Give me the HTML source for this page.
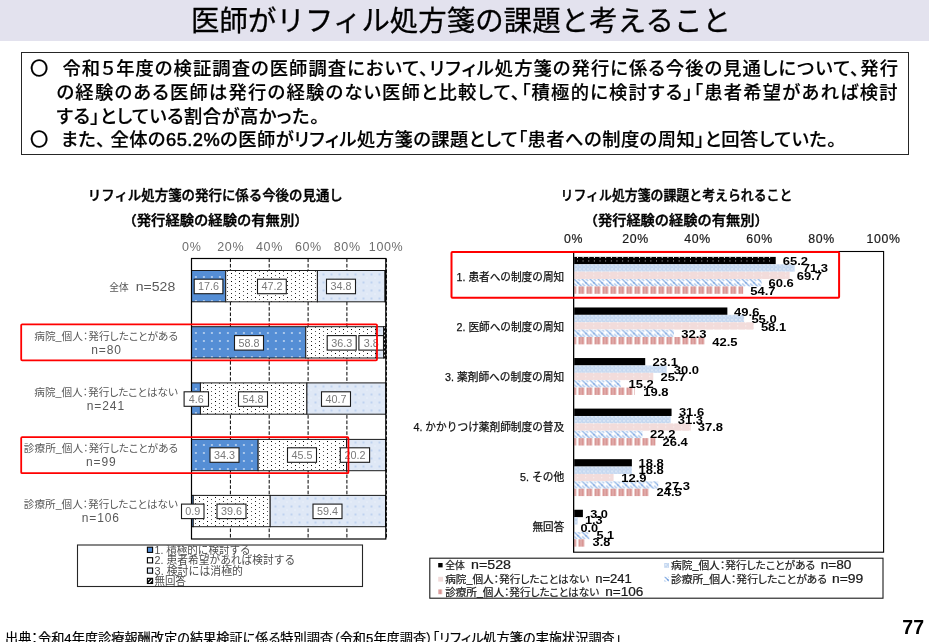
<!DOCTYPE html>
<html lang="ja"><head><meta charset="utf-8"><title>医師がリフィル処方箋の課題と考えること</title>
<style>
html,body{margin:0;padding:0;background:#fff;}
body{width:929px;height:642px;overflow:hidden;position:relative;font-family:"Liberation Sans", "Noto Sans CJK JP", sans-serif;color:#000;}
#hdr{position:absolute;left:0;top:0;width:929px;height:41px;background:#e3e2ee;}
#ttl{position:absolute;left:191px;top:1px;height:41px;line-height:41px;font-size:28.4px;letter-spacing:0.1px;white-space:nowrap;-webkit-text-stroke:0.3px #000;}
#box{position:absolute;left:21px;top:51.5px;width:886px;height:101px;border:1px solid #262626;}
.sl{position:absolute;white-space:nowrap;font-size:18.3px;font-weight:500;-webkit-text-stroke:0.18px #000;font-feature-settings:"palt";line-height:24px;height:24px;overflow:visible;}
.j{text-align:justify;text-align-last:justify;}
#foot{position:absolute;left:5px;top:629.4px;-webkit-text-stroke:0.2px #000;font-size:13.2px;font-feature-settings:"palt";line-height:20px;white-space:nowrap;}
#pg{position:absolute;left:894px;top:615px;width:30px;text-align:right;font-size:19.5px;font-weight:700;line-height:24px;font-family:"Liberation Sans",sans-serif;}
svg{position:absolute;left:0;top:0;}
svg text{font-family:"Liberation Sans", "Noto Sans CJK JP", sans-serif;}
</style></head><body>
<div id="hdr"></div>
<div id="ttl">医師がリフィル処方箋の課題と考えること</div>
<div id="box"></div>
<div class="sl" style="left:30px;top:57.4px;">〇</div>
<div class="sl j" style="left:62.5px;top:57.4px;width:835.5px;">令和５年度の検証調査の医師調査において、リフィル処方箋の発行に係る今後の見通しについて、発行</div>
<div class="sl j" style="left:56.5px;top:81.1px;width:841px;">の経験のある医師は発行の経験のない医師と比較して、「積極的に検討する」「患者希望があれば検討</div>
<div class="sl" style="left:56.5px;top:104.7px;letter-spacing:0.5px;">する」としている割合が高かった。</div>
<div class="sl" style="left:30px;top:128.2px;">〇</div>
<div class="sl" style="left:61px;top:128.2px;letter-spacing:0.46px;">また<span style="margin-right:4.6px">、</span>全体の<span style="-webkit-text-stroke:0.55px #000">65.2%</span>の医師がリフィル処方箋の課題として「患者への制度の周知」と回答していた。</div>

<svg width="929" height="642" viewBox="0 0 929 642">
<defs>
<pattern id="pBlue" x="191.9" y="329" width="8" height="8" patternUnits="userSpaceOnUse"><rect width="8" height="8" fill="#558ed5"/><rect x="3" y="3" width="2" height="2" fill="#a9c6ea"/></pattern>
<pattern id="pDot" x="3" y="5" width="8" height="8" patternUnits="userSpaceOnUse" shape-rendering="crispEdges"><rect width="8" height="8" fill="#fff"/><rect x="4" y="4" width="1" height="1" fill="#000"/><rect x="4" y="0" width="1" height="1" fill="#333"/><rect x="0" y="2" width="1" height="1" fill="#5a5a5a"/><rect x="0" y="6" width="1" height="1" fill="#5a5a5a"/></pattern>
<pattern id="pLight" x="191.5" y="270.5" width="8" height="8" patternUnits="userSpaceOnUse"><rect width="8" height="8" fill="#dfe8f6"/><rect x="3" y="3" width="2" height="2" fill="#bfd2ef"/><rect x="7" y="7" width="1" height="1" fill="#f4f8fd"/></pattern>
<pattern id="pHatchK" width="4" height="4" patternUnits="userSpaceOnUse"><rect width="4" height="4" fill="#fff"/><path d="M-1,3 L3,-1 M1,5 L5,1" stroke="#000" stroke-width="1.6"/></pattern>
<pattern id="rB" width="4" height="4" patternUnits="userSpaceOnUse"><rect width="4" height="4" fill="#c4d7f0"/><rect x="1.3" y="0.3" width="1.2" height="1.2" fill="#fff"/><rect x="3.2" y="2.3" width="1" height="1" fill="#e9f0fa"/></pattern>
<pattern id="rP" width="8" height="8" patternUnits="userSpaceOnUse"><rect width="8" height="8" fill="#f2dcdb"/><rect x="3" y="3.2" width="1.1" height="1.1" fill="#fbf3f3"/><rect x="3" y="-0.3" width="1.1" height="0.9" fill="#fff"/><rect x="3" y="7.1" width="1.1" height="0.9" fill="#fff"/></pattern>
<pattern id="rH" width="8" height="8" patternUnits="userSpaceOnUse"><rect width="8" height="8" fill="#fff"/><path d="M-4,-4 L12,12 M-4,4 L4,12 M4,-4 L12,4" stroke="#8db3e6" stroke-width="1.35"/><path d="M3.4,-0.6 L6,2 M-4.6,-0.6 L-2,2 M11.4,-0.6 L14,2 M0,4.4 L3,7.4 M8,4.4 L11,7.4" stroke="#b4cdef" stroke-width="1.5"/><rect x="3.3" y="3.3" width="1.1" height="1.1" fill="#4a7fd0"/></pattern>
<pattern id="rR" x="4.3" width="8" height="8" patternUnits="userSpaceOnUse"><rect width="8" height="8" fill="#fff"/><rect x="0" y="0" width="2.65" height="8" fill="#d99694"/><rect x="2.95" y="0" width="2.65" height="8" fill="#d99694"/><rect x="2.65" y="0" width="0.3" height="8" fill="#e8bcbb"/></pattern>
</defs>
<text x="87.8" y="200.2" font-size="13.4" fill="#000" font-weight="500" textLength="255.0" lengthAdjust="spacingAndGlyphs" stroke="#000" stroke-width="0.4">リフィル処方箋の発行に係る今後の見通し</text>
<text x="122.5" y="225.2" font-size="13.4" fill="#000" font-weight="500" textLength="186.0" lengthAdjust="spacingAndGlyphs" stroke="#000" stroke-width="0.4">（発行経験の経験の有無別）</text>
<text x="191.8" y="250.9" font-size="12.5" fill="#6e6e6e" text-anchor="middle" letter-spacing="0.65">0%</text>
<text x="230.7" y="250.9" font-size="12.5" fill="#6e6e6e" text-anchor="middle" letter-spacing="0.65">20%</text>
<text x="269.5" y="250.9" font-size="12.5" fill="#6e6e6e" text-anchor="middle" letter-spacing="0.65">40%</text>
<text x="308.4" y="250.9" font-size="12.5" fill="#6e6e6e" text-anchor="middle" letter-spacing="0.65">60%</text>
<text x="347.2" y="250.9" font-size="12.5" fill="#6e6e6e" text-anchor="middle" letter-spacing="0.65">80%</text>
<text x="386.1" y="250.9" font-size="12.5" fill="#6e6e6e" text-anchor="middle" letter-spacing="0.65">100%</text>
<rect x="191.5" y="258.5" width="194.3" height="280.5" fill="#fff" stroke="none"/>
<line x1="230.4" y1="258.5" x2="230.4" y2="539.0" stroke="#000" stroke-width="1" stroke-dasharray="3.6,1.8"/>
<line x1="269.2" y1="258.5" x2="269.2" y2="539.0" stroke="#000" stroke-width="1" stroke-dasharray="3.6,1.8"/>
<line x1="308.1" y1="258.5" x2="308.1" y2="539.0" stroke="#000" stroke-width="1" stroke-dasharray="3.6,1.8"/>
<line x1="346.9" y1="258.5" x2="346.9" y2="539.0" stroke="#000" stroke-width="1" stroke-dasharray="3.6,1.8"/>
<rect x="191.50" y="270.5" width="34.20" height="31.3" fill="url(#pBlue)" stroke="#1a1a1a" stroke-width="1"/>
<rect x="225.70" y="270.5" width="91.71" height="31.3" fill="url(#pDot)" stroke="#1a1a1a" stroke-width="1"/>
<rect x="317.41" y="270.5" width="67.62" height="31.3" fill="url(#pLight)" stroke="#1a1a1a" stroke-width="1"/>
<rect x="385.02" y="270.5" width="0.78" height="31.3" fill="url(#pHatchK)" stroke="#1a1a1a" stroke-width="1"/>
<rect x="191.50" y="326.7" width="114.25" height="31.3" fill="url(#pBlue)" stroke="#1a1a1a" stroke-width="1"/>
<rect x="305.75" y="326.7" width="70.53" height="31.3" fill="url(#pDot)" stroke="#1a1a1a" stroke-width="1"/>
<rect x="376.28" y="326.7" width="7.38" height="31.3" fill="url(#pLight)" stroke="#1a1a1a" stroke-width="1"/>
<rect x="383.66" y="326.7" width="2.14" height="31.3" fill="url(#pHatchK)" stroke="#1a1a1a" stroke-width="1"/>
<rect x="191.50" y="382.9" width="8.94" height="31.3" fill="url(#pBlue)" stroke="#1a1a1a" stroke-width="1"/>
<rect x="200.44" y="382.9" width="106.48" height="31.3" fill="url(#pDot)" stroke="#1a1a1a" stroke-width="1"/>
<rect x="306.91" y="382.9" width="79.08" height="31.3" fill="url(#pLight)" stroke="#1a1a1a" stroke-width="1"/>
<rect x="191.50" y="439.4" width="66.64" height="31.3" fill="url(#pBlue)" stroke="#1a1a1a" stroke-width="1"/>
<rect x="258.14" y="439.4" width="88.41" height="31.3" fill="url(#pDot)" stroke="#1a1a1a" stroke-width="1"/>
<rect x="346.55" y="439.4" width="39.25" height="31.3" fill="url(#pLight)" stroke="#1a1a1a" stroke-width="1"/>
<rect x="191.50" y="495.4" width="1.75" height="31.3" fill="url(#pBlue)" stroke="#1a1a1a" stroke-width="1"/>
<rect x="193.25" y="495.4" width="76.94" height="31.3" fill="url(#pDot)" stroke="#1a1a1a" stroke-width="1"/>
<rect x="270.19" y="495.4" width="115.41" height="31.3" fill="url(#pLight)" stroke="#1a1a1a" stroke-width="1"/>
<rect x="191.5" y="258.5" width="194.3" height="280.5" fill="none" stroke="#000" stroke-width="1.2"/>
<line x1="386.4" y1="258.5" x2="386.4" y2="539.0" stroke="#000" stroke-width="1" stroke-dasharray="3.6,1.8"/>
<rect x="194.2" y="279.2" width="28.7" height="14.5" fill="#fff" stroke="#1a1a1a" stroke-width="1.1"/>
<text x="208.6" y="290.4" font-size="10.8" fill="#7a7a7a" text-anchor="middle">17.6</text>
<rect x="257.5" y="279.2" width="28.8" height="14.5" fill="#fff" stroke="#1a1a1a" stroke-width="1.1"/>
<text x="271.9" y="290.4" font-size="10.8" fill="#7a7a7a" text-anchor="middle">47.2</text>
<rect x="326.5" y="279.2" width="29.0" height="14.5" fill="#fff" stroke="#1a1a1a" stroke-width="1.1"/>
<text x="341.0" y="290.4" font-size="10.8" fill="#7a7a7a" text-anchor="middle">34.8</text>
<rect x="234.5" y="335.6" width="29.0" height="14.5" fill="#fff" stroke="#1a1a1a" stroke-width="1.1"/>
<text x="249.0" y="346.7" font-size="10.8" fill="#7a7a7a" text-anchor="middle">58.8</text>
<rect x="327.2" y="335.6" width="29.0" height="14.5" fill="#fff" stroke="#1a1a1a" stroke-width="1.1"/>
<text x="341.7" y="346.7" font-size="10.8" fill="#7a7a7a" text-anchor="middle">36.3</text>
<rect x="358.9" y="335.6" width="24.6" height="14.5" fill="#fff" stroke="#1a1a1a" stroke-width="1.1"/>
<text x="371.2" y="346.7" font-size="10.8" fill="#7a7a7a" text-anchor="middle">3.8</text>
<rect x="184.1" y="391.8" width="24.4" height="14.5" fill="#fff" stroke="#1a1a1a" stroke-width="1.1"/>
<text x="196.3" y="402.9" font-size="10.8" fill="#7a7a7a" text-anchor="middle">4.6</text>
<rect x="238.5" y="391.8" width="29.0" height="14.5" fill="#fff" stroke="#1a1a1a" stroke-width="1.1"/>
<text x="253.0" y="402.9" font-size="10.8" fill="#7a7a7a" text-anchor="middle">54.8</text>
<rect x="321.5" y="391.8" width="29.0" height="14.5" fill="#fff" stroke="#1a1a1a" stroke-width="1.1"/>
<text x="336.0" y="402.9" font-size="10.8" fill="#7a7a7a" text-anchor="middle">40.7</text>
<rect x="210.0" y="447.8" width="29.0" height="14.5" fill="#fff" stroke="#1a1a1a" stroke-width="1.1"/>
<text x="224.5" y="458.9" font-size="10.8" fill="#7a7a7a" text-anchor="middle">34.3</text>
<rect x="287.5" y="447.8" width="29.0" height="14.5" fill="#fff" stroke="#1a1a1a" stroke-width="1.1"/>
<text x="302.0" y="458.9" font-size="10.8" fill="#7a7a7a" text-anchor="middle">45.5</text>
<rect x="340.3" y="447.8" width="29.3" height="14.5" fill="#fff" stroke="#1a1a1a" stroke-width="1.1"/>
<text x="355.0" y="458.9" font-size="10.8" fill="#7a7a7a" text-anchor="middle">20.2</text>
<rect x="181.5" y="504.1" width="22.5" height="14.5" fill="#fff" stroke="#1a1a1a" stroke-width="1.1"/>
<text x="192.8" y="515.2" font-size="10.8" fill="#7a7a7a" text-anchor="middle">0.9</text>
<rect x="217.0" y="504.1" width="29.0" height="14.5" fill="#fff" stroke="#1a1a1a" stroke-width="1.1"/>
<text x="231.5" y="515.2" font-size="10.8" fill="#7a7a7a" text-anchor="middle">39.6</text>
<rect x="313.0" y="504.1" width="29.0" height="14.5" fill="#fff" stroke="#1a1a1a" stroke-width="1.1"/>
<text x="327.5" y="515.2" font-size="10.8" fill="#7a7a7a" text-anchor="middle">59.4</text>
<text y="291.2" fill="#595959"><tspan x="109.2" font-size="10.5" textLength="19.4" lengthAdjust="spacingAndGlyphs" style="font-feature-settings:&quot;palt&quot;">全体</tspan><tspan x="131.9" font-size="12" textLength="43.3" lengthAdjust="spacingAndGlyphs"> n=528</tspan></text>
<text x="34.2" y="339.6" font-size="10.5" fill="#595959" textLength="143.8" lengthAdjust="spacingAndGlyphs" style="font-feature-settings:&quot;palt&quot;">病院_個人：発行したことがある</text>
<text x="106.5" y="354.0" font-size="12" fill="#595959" text-anchor="middle" letter-spacing="0.9">n=80</text>
<text x="34.3" y="396.3" font-size="10.5" fill="#595959" textLength="143.7" lengthAdjust="spacingAndGlyphs" style="font-feature-settings:&quot;palt&quot;">病院_個人：発行したことはない</text>
<text x="105.9" y="410.2" font-size="12" fill="#595959" text-anchor="middle" letter-spacing="0.9">n=241</text>
<text x="23.8" y="451.9" font-size="10.5" fill="#595959" textLength="154.2" lengthAdjust="spacingAndGlyphs" style="font-feature-settings:&quot;palt&quot;">診療所_個人：発行したことがある</text>
<text x="101.3" y="466.0" font-size="12" fill="#595959" text-anchor="middle" letter-spacing="0.9">n=99</text>
<text x="23.8" y="508.3" font-size="10.5" fill="#595959" textLength="154.2" lengthAdjust="spacingAndGlyphs" style="font-feature-settings:&quot;palt&quot;">診療所_個人：発行したことはない</text>
<text x="100.8" y="521.7" font-size="12" fill="#595959" text-anchor="middle" letter-spacing="0.9">n=106</text>
<rect x="21.2" y="324.3" width="355.8" height="36" rx="1" fill="none" stroke="#ff0000" stroke-width="1.8"/>
<rect x="21.2" y="437.2" width="327.2" height="36" rx="1" fill="none" stroke="#ff0000" stroke-width="1.8"/>
<rect x="77.5" y="545" width="285" height="41.5" fill="#fff" stroke="#262626" stroke-width="1.1"/>
<clipPath id="lc"><rect x="78" y="545.5" width="284" height="40.5"/></clipPath>
<g clip-path="url(#lc)">
<rect x="147.4" y="547.2" width="5.2" height="5.2" fill="#558ed5" stroke="#000" stroke-width="1.1"/>
<text x="154.6" y="553.8" font-size="11" fill="#4d4d4d" textLength="95.9" lengthAdjust="spacingAndGlyphs">1. 積極的に検討する</text>
<rect x="147.4" y="557.7" width="5.2" height="5.2" fill="#fff" stroke="#000" stroke-width="1.1"/>
<text x="154.6" y="564.3" font-size="11" fill="#4d4d4d" textLength="140.6" lengthAdjust="spacingAndGlyphs">2. 患者希望があれば検討する</text>
<rect x="147.4" y="568.0" width="5.2" height="5.2" fill="#dfe8f6" stroke="#000" stroke-width="1.1"/>
<text x="154.6" y="574.6" font-size="11" fill="#4d4d4d" textLength="88.4" lengthAdjust="spacingAndGlyphs">3. 検討には消極的</text>
<rect x="147.4" y="578.3" width="5.2" height="5.2" fill="url(#pHatchK)" stroke="#000" stroke-width="1.1"/>
<text x="154.6" y="584.9" font-size="11" fill="#4d4d4d" textLength="31.4" lengthAdjust="spacingAndGlyphs">無回答</text>
</g>
<text x="560.6" y="200.2" font-size="13.4" fill="#000" font-weight="500" textLength="231.8" lengthAdjust="spacingAndGlyphs" stroke="#000" stroke-width="0.4">リフィル処方箋の課題と考えられること</text>
<text x="583.7" y="225.0" font-size="13.4" fill="#000" font-weight="500" textLength="185.0" lengthAdjust="spacingAndGlyphs" stroke="#000" stroke-width="0.4">（発行経験の経験の有無別）</text>
<text x="573.6" y="243.2" font-size="12.3" fill="#1a1a1a" text-anchor="middle" letter-spacing="0.7" stroke="#1a1a1a" stroke-width="0.2">0%</text>
<text x="635.6" y="243.2" font-size="12.3" fill="#1a1a1a" text-anchor="middle" letter-spacing="0.7" stroke="#1a1a1a" stroke-width="0.2">20%</text>
<text x="697.6" y="243.2" font-size="12.3" fill="#1a1a1a" text-anchor="middle" letter-spacing="0.7" stroke="#1a1a1a" stroke-width="0.2">40%</text>
<text x="759.6" y="243.2" font-size="12.3" fill="#1a1a1a" text-anchor="middle" letter-spacing="0.7" stroke="#1a1a1a" stroke-width="0.2">60%</text>
<text x="821.6" y="243.2" font-size="12.3" fill="#1a1a1a" text-anchor="middle" letter-spacing="0.7" stroke="#1a1a1a" stroke-width="0.2">80%</text>
<text x="883.6" y="243.2" font-size="12.3" fill="#1a1a1a" text-anchor="middle" letter-spacing="0.7" stroke="#1a1a1a" stroke-width="0.2">100%</text>
<rect x="573.6" y="251.5" width="310.0" height="300.7" fill="#fff" stroke="#000" stroke-width="1.1"/>
<rect transform="translate(574.2,256.90)" width="201.52" height="7.38" fill="#000"/>
<rect transform="translate(574.2,264.28)" width="220.43" height="7.38" fill="url(#rB)"/>
<rect transform="translate(574.2,271.66)" width="215.47" height="7.38" fill="url(#rP)"/>
<rect transform="translate(574.2,279.04)" width="187.26" height="7.38" fill="url(#rH)"/>
<rect transform="translate(574.2,286.42)" width="168.97" height="7.38" fill="url(#rR)"/>
<rect x="577.0" y="256.9" width="1" height="1.2" fill="#fff"/>
<rect x="577.0" y="260.5" width="0.9" height="0.9" fill="#ddd"/>
<rect x="582.6" y="256.9" width="1" height="1.2" fill="#fff"/>
<rect x="582.6" y="260.5" width="0.9" height="0.9" fill="#ddd"/>
<rect x="588.3" y="256.9" width="1" height="1.2" fill="#fff"/>
<rect x="588.3" y="260.5" width="0.9" height="0.9" fill="#ddd"/>
<rect x="593.9" y="256.9" width="1" height="1.2" fill="#fff"/>
<rect x="593.9" y="260.5" width="0.9" height="0.9" fill="#ddd"/>
<rect x="599.6" y="256.9" width="1" height="1.2" fill="#fff"/>
<rect x="599.6" y="260.5" width="0.9" height="0.9" fill="#ddd"/>
<rect x="605.2" y="256.9" width="1" height="1.2" fill="#fff"/>
<rect x="605.2" y="260.5" width="0.9" height="0.9" fill="#ddd"/>
<rect x="610.9" y="256.9" width="1" height="1.2" fill="#fff"/>
<rect x="610.9" y="260.5" width="0.9" height="0.9" fill="#ddd"/>
<rect x="616.5" y="256.9" width="1" height="1.2" fill="#fff"/>
<rect x="616.5" y="260.5" width="0.9" height="0.9" fill="#ddd"/>
<rect x="622.2" y="256.9" width="1" height="1.2" fill="#fff"/>
<rect x="622.2" y="260.5" width="0.9" height="0.9" fill="#ddd"/>
<rect x="627.8" y="256.9" width="1" height="1.2" fill="#fff"/>
<rect x="627.8" y="260.5" width="0.9" height="0.9" fill="#ddd"/>
<rect x="633.5" y="256.9" width="1" height="1.2" fill="#fff"/>
<rect x="633.5" y="260.5" width="0.9" height="0.9" fill="#ddd"/>
<rect x="639.1" y="256.9" width="1" height="1.2" fill="#fff"/>
<rect x="639.1" y="260.5" width="0.9" height="0.9" fill="#ddd"/>
<rect x="644.8" y="256.9" width="1" height="1.2" fill="#fff"/>
<rect x="644.8" y="260.5" width="0.9" height="0.9" fill="#ddd"/>
<rect x="650.4" y="256.9" width="1" height="1.2" fill="#fff"/>
<rect x="650.4" y="260.5" width="0.9" height="0.9" fill="#ddd"/>
<rect x="656.1" y="256.9" width="1" height="1.2" fill="#fff"/>
<rect x="656.1" y="260.5" width="0.9" height="0.9" fill="#ddd"/>
<rect x="661.7" y="256.9" width="1" height="1.2" fill="#fff"/>
<rect x="661.7" y="260.5" width="0.9" height="0.9" fill="#ddd"/>
<rect x="667.4" y="256.9" width="1" height="1.2" fill="#fff"/>
<rect x="667.4" y="260.5" width="0.9" height="0.9" fill="#ddd"/>
<rect x="673.0" y="256.9" width="1" height="1.2" fill="#fff"/>
<rect x="673.0" y="260.5" width="0.9" height="0.9" fill="#ddd"/>
<rect x="678.7" y="256.9" width="1" height="1.2" fill="#fff"/>
<rect x="678.7" y="260.5" width="0.9" height="0.9" fill="#ddd"/>
<rect x="684.3" y="256.9" width="1" height="1.2" fill="#fff"/>
<rect x="684.3" y="260.5" width="0.9" height="0.9" fill="#ddd"/>
<rect x="690.0" y="256.9" width="1" height="1.2" fill="#fff"/>
<rect x="690.0" y="260.5" width="0.9" height="0.9" fill="#ddd"/>
<rect x="695.6" y="256.9" width="1" height="1.2" fill="#fff"/>
<rect x="695.6" y="260.5" width="0.9" height="0.9" fill="#ddd"/>
<rect x="701.3" y="256.9" width="1" height="1.2" fill="#fff"/>
<rect x="701.3" y="260.5" width="0.9" height="0.9" fill="#ddd"/>
<rect x="706.9" y="256.9" width="1" height="1.2" fill="#fff"/>
<rect x="706.9" y="260.5" width="0.9" height="0.9" fill="#ddd"/>
<rect x="712.6" y="256.9" width="1" height="1.2" fill="#fff"/>
<rect x="712.6" y="260.5" width="0.9" height="0.9" fill="#ddd"/>
<rect x="718.2" y="256.9" width="1" height="1.2" fill="#fff"/>
<rect x="718.2" y="260.5" width="0.9" height="0.9" fill="#ddd"/>
<rect x="723.9" y="256.9" width="1" height="1.2" fill="#fff"/>
<rect x="723.9" y="260.5" width="0.9" height="0.9" fill="#ddd"/>
<rect x="729.5" y="256.9" width="1" height="1.2" fill="#fff"/>
<rect x="729.5" y="260.5" width="0.9" height="0.9" fill="#ddd"/>
<rect x="735.2" y="256.9" width="1" height="1.2" fill="#fff"/>
<rect x="735.2" y="260.5" width="0.9" height="0.9" fill="#ddd"/>
<rect x="740.8" y="256.9" width="1" height="1.2" fill="#fff"/>
<rect x="740.8" y="260.5" width="0.9" height="0.9" fill="#ddd"/>
<rect x="746.5" y="256.9" width="1" height="1.2" fill="#fff"/>
<rect x="746.5" y="260.5" width="0.9" height="0.9" fill="#ddd"/>
<rect x="752.1" y="256.9" width="1" height="1.2" fill="#fff"/>
<rect x="752.1" y="260.5" width="0.9" height="0.9" fill="#ddd"/>
<rect x="757.8" y="256.9" width="1" height="1.2" fill="#fff"/>
<rect x="757.8" y="260.5" width="0.9" height="0.9" fill="#ddd"/>
<rect x="763.4" y="256.9" width="1" height="1.2" fill="#fff"/>
<rect x="763.4" y="260.5" width="0.9" height="0.9" fill="#ddd"/>
<rect x="769.1" y="256.9" width="1" height="1.2" fill="#fff"/>
<rect x="769.1" y="260.5" width="0.9" height="0.9" fill="#ddd"/>
<text x="564.2" y="280.8" font-size="11.5" fill="#111" text-anchor="end" textLength="107.6" lengthAdjust="spacingAndGlyphs" stroke="#111" stroke-width="0.25">1. 患者への制度の周知</text>
<text x="782.7" y="265.4" font-size="11.5" fill="#000" font-weight="700" textLength="25.3" lengthAdjust="spacingAndGlyphs">65.2</text>
<text x="802.8" y="271.7" font-size="11.5" fill="#000" font-weight="700" textLength="25.3" lengthAdjust="spacingAndGlyphs">71.3</text>
<text x="796.8" y="280.4" font-size="11.5" fill="#000" font-weight="700" textLength="25.3" lengthAdjust="spacingAndGlyphs">69.7</text>
<text x="768.5" y="287.2" font-size="11.5" fill="#000" font-weight="700" textLength="25.3" lengthAdjust="spacingAndGlyphs">60.6</text>
<text x="750.3" y="295.3" font-size="11.5" fill="#000" font-weight="700" textLength="25.3" lengthAdjust="spacingAndGlyphs">54.7</text>
<rect transform="translate(574.2,307.47)" width="153.16" height="7.38" fill="#000"/>
<rect transform="translate(574.2,314.85)" width="169.90" height="7.38" fill="url(#rB)"/>
<rect transform="translate(574.2,322.23)" width="179.51" height="7.38" fill="url(#rP)"/>
<rect transform="translate(574.2,329.61)" width="99.53" height="7.38" fill="url(#rH)"/>
<rect transform="translate(574.2,336.99)" width="131.15" height="7.38" fill="url(#rR)"/>
<text x="564.2" y="330.9" font-size="11.5" fill="#111" text-anchor="end" textLength="107.6" lengthAdjust="spacingAndGlyphs" stroke="#111" stroke-width="0.25">2. 医師への制度の周知</text>
<text x="734.1" y="315.6" font-size="11.5" fill="#000" font-weight="700" textLength="25.3" lengthAdjust="spacingAndGlyphs">49.6</text>
<text x="751.4" y="323.4" font-size="11.5" fill="#000" font-weight="700" textLength="25.3" lengthAdjust="spacingAndGlyphs">55.0</text>
<text x="760.9" y="330.6" font-size="11.5" fill="#000" font-weight="700" textLength="25.3" lengthAdjust="spacingAndGlyphs">58.1</text>
<text x="681.2" y="338.2" font-size="11.5" fill="#000" font-weight="700" textLength="25.3" lengthAdjust="spacingAndGlyphs">32.3</text>
<text x="712.3" y="345.6" font-size="11.5" fill="#000" font-weight="700" textLength="25.3" lengthAdjust="spacingAndGlyphs">42.5</text>
<rect transform="translate(574.2,358.04)" width="71.01" height="7.38" fill="#000"/>
<rect transform="translate(574.2,365.42)" width="92.40" height="7.38" fill="url(#rB)"/>
<rect transform="translate(574.2,372.80)" width="79.07" height="7.38" fill="url(#rP)"/>
<rect transform="translate(574.2,380.18)" width="46.52" height="7.38" fill="url(#rH)"/>
<rect transform="translate(574.2,387.56)" width="60.78" height="7.38" fill="url(#rR)"/>
<text x="564.2" y="381.0" font-size="11.5" fill="#111" text-anchor="end" textLength="119.2" lengthAdjust="spacingAndGlyphs" stroke="#111" stroke-width="0.25">3. 薬剤師への制度の周知</text>
<text x="652.6" y="366.2" font-size="11.5" fill="#000" font-weight="700" textLength="25.3" lengthAdjust="spacingAndGlyphs">23.1</text>
<text x="673.8" y="373.6" font-size="11.5" fill="#000" font-weight="700" textLength="25.3" lengthAdjust="spacingAndGlyphs">30.0</text>
<text x="660.5" y="380.5" font-size="11.5" fill="#000" font-weight="700" textLength="25.3" lengthAdjust="spacingAndGlyphs">25.7</text>
<text x="628.5" y="388.2" font-size="11.5" fill="#000" font-weight="700" textLength="25.3" lengthAdjust="spacingAndGlyphs">15.2</text>
<text x="643.3" y="395.6" font-size="11.5" fill="#000" font-weight="700" textLength="25.3" lengthAdjust="spacingAndGlyphs">19.8</text>
<rect transform="translate(574.2,408.61)" width="97.36" height="7.38" fill="#000"/>
<rect transform="translate(574.2,415.99)" width="96.43" height="7.38" fill="url(#rB)"/>
<rect transform="translate(574.2,423.37)" width="116.58" height="7.38" fill="url(#rP)"/>
<rect transform="translate(574.2,430.75)" width="68.22" height="7.38" fill="url(#rH)"/>
<rect transform="translate(574.2,438.13)" width="81.24" height="7.38" fill="url(#rR)"/>
<text x="564.2" y="431.1" font-size="11.5" fill="#111" text-anchor="end" textLength="150.7" lengthAdjust="spacingAndGlyphs" stroke="#111" stroke-width="0.25">4. かかりつけ薬剤師制度の普及</text>
<text x="678.9" y="416.4" font-size="11.5" fill="#000" font-weight="700" textLength="25.3" lengthAdjust="spacingAndGlyphs">31.6</text>
<text x="677.7" y="423.7" font-size="11.5" fill="#000" font-weight="700" textLength="25.3" lengthAdjust="spacingAndGlyphs">31.3</text>
<text x="697.8" y="431.3" font-size="11.5" fill="#000" font-weight="700" textLength="25.3" lengthAdjust="spacingAndGlyphs">37.8</text>
<text x="650.1" y="438.2" font-size="11.5" fill="#000" font-weight="700" textLength="25.3" lengthAdjust="spacingAndGlyphs">22.2</text>
<text x="662.5" y="446.2" font-size="11.5" fill="#000" font-weight="700" textLength="25.3" lengthAdjust="spacingAndGlyphs">26.4</text>
<rect transform="translate(574.2,459.18)" width="57.68" height="7.38" fill="#000"/>
<rect transform="translate(574.2,466.56)" width="57.68" height="7.38" fill="url(#rB)"/>
<rect transform="translate(574.2,473.94)" width="39.39" height="7.38" fill="url(#rP)"/>
<rect transform="translate(574.2,481.32)" width="84.03" height="7.38" fill="url(#rH)"/>
<rect transform="translate(574.2,488.70)" width="75.35" height="7.38" fill="url(#rR)"/>
<text x="564.2" y="481.2" font-size="11.5" fill="#111" text-anchor="end" textLength="44.2" lengthAdjust="spacingAndGlyphs" stroke="#111" stroke-width="0.25">5. その他</text>
<text x="638.5" y="466.7" font-size="11.5" fill="#000" font-weight="700" textLength="25.3" lengthAdjust="spacingAndGlyphs">18.8</text>
<text x="638.5" y="474.4" font-size="11.5" fill="#000" font-weight="700" textLength="25.3" lengthAdjust="spacingAndGlyphs">18.8</text>
<text x="621.2" y="481.5" font-size="11.5" fill="#000" font-weight="700" textLength="25.3" lengthAdjust="spacingAndGlyphs">12.9</text>
<text x="664.7" y="489.5" font-size="11.5" fill="#000" font-weight="700" textLength="25.3" lengthAdjust="spacingAndGlyphs">27.3</text>
<text x="656.5" y="496.2" font-size="11.5" fill="#000" font-weight="700" textLength="25.3" lengthAdjust="spacingAndGlyphs">24.5</text>
<rect transform="translate(574.2,509.75)" width="8.70" height="7.38" fill="#000"/>
<rect transform="translate(574.2,517.13)" width="3.43" height="7.38" fill="url(#rB)"/>
<rect transform="translate(574.2,531.89)" width="15.21" height="7.38" fill="url(#rH)"/>
<rect transform="translate(574.2,539.27)" width="11.18" height="7.38" fill="url(#rR)"/>
<text x="564.2" y="531.3" font-size="11.5" fill="#111" text-anchor="end" textLength="31.7" lengthAdjust="spacingAndGlyphs" stroke="#111" stroke-width="0.25">無回答</text>
<text x="590.2" y="517.5" font-size="11.5" fill="#000" font-weight="700" textLength="17.7" lengthAdjust="spacingAndGlyphs">3.0</text>
<text x="585.0" y="524.3" font-size="11.5" fill="#000" font-weight="700" textLength="17.7" lengthAdjust="spacingAndGlyphs">1.3</text>
<text x="580.5" y="531.5" font-size="11.5" fill="#000" font-weight="700" textLength="17.7" lengthAdjust="spacingAndGlyphs">0.0</text>
<text x="596.5" y="539.0" font-size="11.5" fill="#000" font-weight="700" textLength="17.7" lengthAdjust="spacingAndGlyphs">5.1</text>
<text x="592.6" y="546.2" font-size="11.5" fill="#000" font-weight="700" textLength="17.7" lengthAdjust="spacingAndGlyphs">3.8</text>
<line x1="573.6" y1="251.5" x2="573.6" y2="552.2" stroke="#000" stroke-width="1.1"/>
<rect x="451.5" y="252" width="387.6" height="45.8" rx="1" fill="none" stroke="#ff0000" stroke-width="2"/>
<rect x="429.8" y="558.2" width="453.2" height="40" fill="#fff" stroke="#1a1a1a" stroke-width="1.1"/>
<rect x="438.2" y="563" width="4.4" height="4.4" fill="#000"/>
<text y="569.4" fill="#1a1a1a" stroke="#1a1a1a" stroke-width="0.22"><tspan x="445.2" font-size="10.5" textLength="19.6" lengthAdjust="spacingAndGlyphs" style="font-feature-settings:&quot;palt&quot;">全体</tspan><tspan x="467.1" font-size="12" textLength="43.9" lengthAdjust="spacingAndGlyphs"> n=528</tspan></text>
<rect x="438.2" y="576.8" width="4.8" height="4.8" fill="url(#rP)"/>
<text y="583.0" fill="#1a1a1a" stroke="#1a1a1a" stroke-width="0.22"><tspan x="445.2" font-size="10.5" textLength="144.1" lengthAdjust="spacingAndGlyphs" style="font-feature-settings:&quot;palt&quot;">病院_個人：発行したことはない</tspan><tspan x="591.6" font-size="12" textLength="40.3" lengthAdjust="spacingAndGlyphs"> n=241</tspan></text>
<rect x="438.2" y="589.4" width="4.8" height="4.8" fill="url(#rR)"/>
<text y="596.4" fill="#1a1a1a" stroke="#1a1a1a" stroke-width="0.22"><tspan x="445.2" font-size="10.5" textLength="153.9" lengthAdjust="spacingAndGlyphs" style="font-feature-settings:&quot;palt&quot;">診療所_個人：発行したことはない</tspan><tspan x="601.4" font-size="12" textLength="41.9" lengthAdjust="spacingAndGlyphs"> n=106</tspan></text>
<rect x="664.2" y="563" width="4.8" height="4.8" fill="url(#rB)"/>
<text y="569.4" fill="#1a1a1a" stroke="#1a1a1a" stroke-width="0.22"><tspan x="671.0" font-size="10.5" textLength="144.1" lengthAdjust="spacingAndGlyphs" style="font-feature-settings:&quot;palt&quot;">病院_個人：発行したことがある</tspan><tspan x="816.9" font-size="12" textLength="34.6" lengthAdjust="spacingAndGlyphs"> n=80</tspan></text>
<rect x="664.2" y="576.8" width="4.8" height="4.8" fill="url(#rH)"/>
<text y="583.0" fill="#1a1a1a" stroke="#1a1a1a" stroke-width="0.22"><tspan x="671.0" font-size="10.5" textLength="155.9" lengthAdjust="spacingAndGlyphs" style="font-feature-settings:&quot;palt&quot;">診療所_個人：発行したことがある</tspan><tspan x="828.1" font-size="12" textLength="35.2" lengthAdjust="spacingAndGlyphs"> n=99</tspan></text>
</svg>
<div id="foot">出典：令和4年度診療報酬改定の結果検証に係る特別調査（令和5年度調査）「リフィル処方箋の実施状況調査」</div>
<div id="pg">77</div>
</body></html>
